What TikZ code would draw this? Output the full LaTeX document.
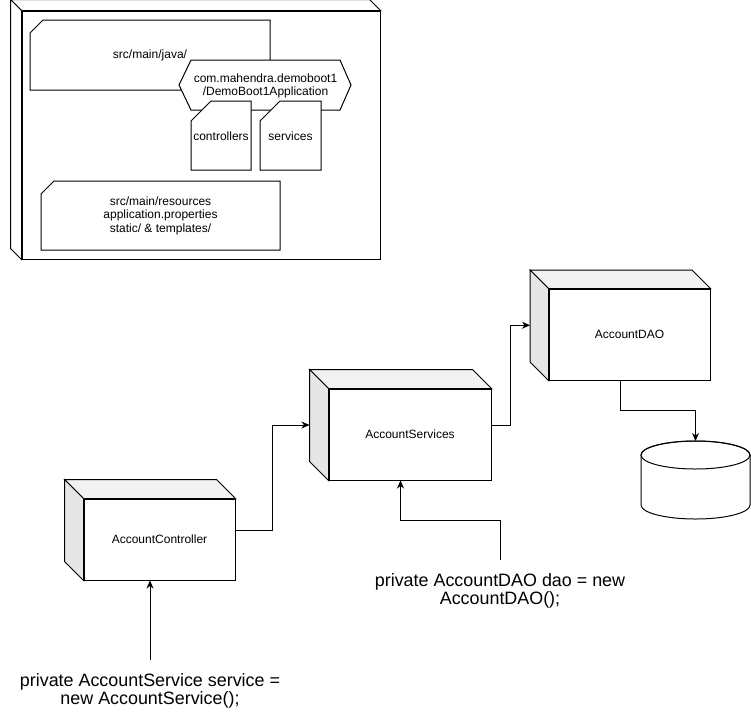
\documentclass[tikz,border=0pt]{standalone}
\usepackage{fontspec}
\setmainfont{Liberation Sans}
\usetikzlibrary{arrows.meta}
\definecolor{cubetop}{HTML}{F2F2F2}
\definecolor{cubeleft}{HTML}{E6E6E6}
\newcommand{\cubefaces}[4]{%
  \filldraw[fill=#3, line join=miter] (#1.north west) -- ++(-#2pt,#2pt) -- ([xshift=-#2pt,yshift=#2pt]#1.north east) -- (#1.north east) -- cycle;
  \filldraw[fill=#4, line join=miter] (#1.north west) -- ++(-#2pt,#2pt) -- ([xshift=-#2pt,yshift=#2pt]#1.south west) -- (#1.south west) -- cycle;}
\begin{document}
\begin{tikzpicture}[x=1pt,y=-1pt, line width=1pt,
  front/.style={draw, fill=white, inner sep=0pt, font=\fontsize{12}{13.5}\selectfont},
  small/.style={font=\fontsize{12}{13.5}\selectfont, align=center, inner sep=0pt},
  big/.style={font=\fontsize{17.9}{18.4}\selectfont, align=center, inner xsep=0pt},
  conn/.style={draw, -{Stealth[length=8pt,width=7pt,inset=2.5pt]}},
  card/.style={draw, fill=white, line join=miter}]

\useasboundingbox (0,0) rectangle (751,721);

% outer node box
\node[draw, fill=white, minimum width=358pt, minimum height=248pt, inner sep=0pt] (outer) at (201,135) {};
\cubefaces{outer}{11}{white}{white}

\draw[card] (30,33) -- (43,20) -- (270,20) -- (270,90) -- (30,90) -- cycle;
\node[small] (java) at (150,55) {src/main/java/};
\draw[card] (179,85) -- (191,60) -- (340,60) -- (351,85) -- (340,110) -- (191,110) -- cycle;
\node[small] (pkg) at (265.5,86) {com.mahendra.demoboot1\\/DemoBoot1Application};
\draw[card] (191,121) -- (211,101) -- (251,101) -- (251,170) -- (191,170) -- cycle;
\node[small] (ctrlpkg) at (221,136.5) {controllers};
\draw[card] (260,121) -- (280,101) -- (321,101) -- (321,170) -- (260,170) -- cycle;
\node[small] (svcpkg) at (290.5,136.5) {services};
\draw[card] (41,194) -- (54,181) -- (280,181) -- (280,250) -- (41,250) -- cycle;
\node[small] (res) at (160.5,215.5) {src/main/resources\\application.properties\\static/ \& templates/};

% cubes
\node[front, minimum width=161pt, minimum height=91pt] (dao) at (629.5,334.5) {AccountDAO};
\cubefaces{dao}{18.5}{cubetop}{cubeleft}
\node[front, minimum width=162pt, minimum height=91pt] (svc) at (410,434.5) {AccountServices};
\cubefaces{svc}{19}{cubetop}{cubeleft}
\node[front, minimum width=151pt, minimum height=81pt] (ctrl) at (159.5,539.5) {AccountController};
\cubefaces{ctrl}{19}{cubetop}{cubeleft}

% database cylinder
\filldraw[fill=white] (641,455) -- (641,505) arc[start angle=180, end angle=360, x radius=54.5pt, y radius=14pt] -- (750,455) arc[start angle=0, end angle=180, x radius=54.5pt, y radius=14pt] -- cycle;
\draw (695.5,455) ellipse[x radius=54.5pt, y radius=14pt];
\coordinate (dbtop) at (695.5,441);

% texts
\node[big, anchor=north, inner ysep=13pt] (daotext) at (500,560) {private AccountDAO dao = new\\AccountDAO();};
\node[big, anchor=north, inner ysep=13pt] (svctext) at (150,660) {private AccountService service =\\new AccountService();};

% connectors
\draw[conn] ([yshift=9.5pt]ctrl.east) -- ++(37pt,0) |- ([xshift=-19pt,yshift=9.5pt]svc.west);
\draw[conn] ([yshift=9.5pt]svc.east) -- ++(19pt,0) |- ([xshift=-18.5pt,yshift=9.25pt]dao.west);
\draw[conn] ([xshift=-9.25pt]dao.south) -- ++(0,-30pt) -| (dbtop);
\draw[conn] (daotext.north) -- ++(0,40pt) -| ([xshift=-9.5pt]svc.south);
\draw[conn] (svctext.north) -- ([xshift=-9.5pt]ctrl.south);
\end{tikzpicture}
\end{document}
